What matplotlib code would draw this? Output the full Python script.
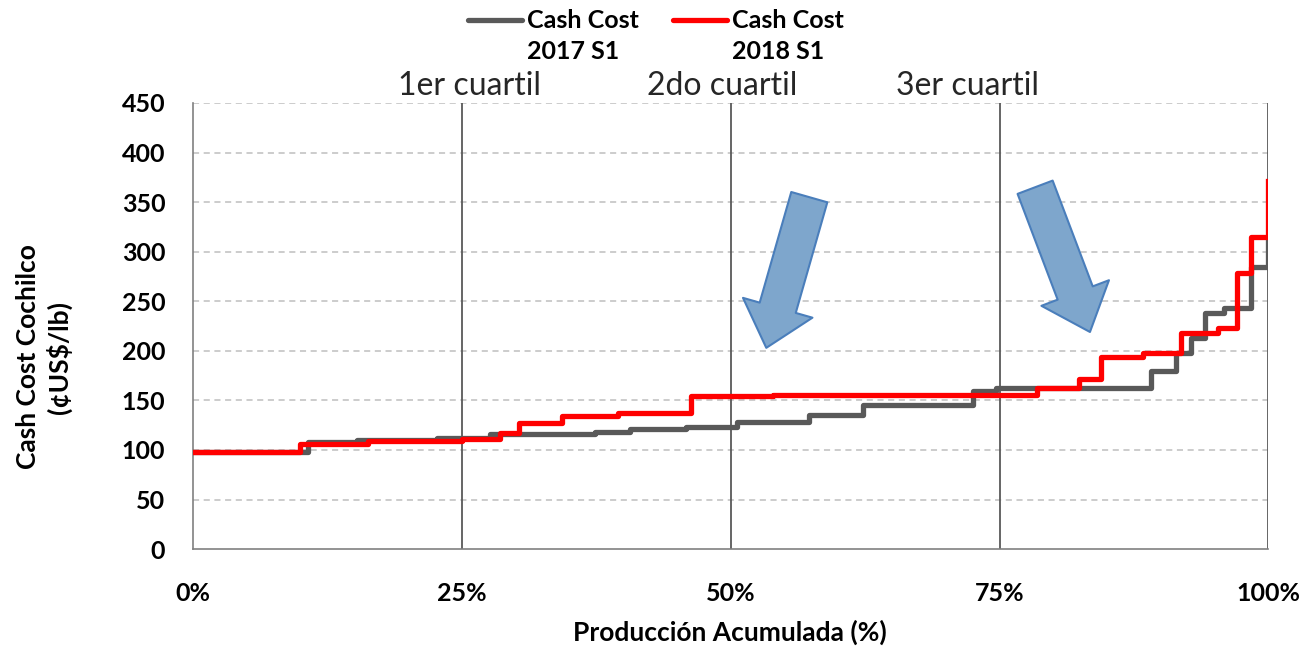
import matplotlib
matplotlib.use('Agg')
import matplotlib.pyplot as plt
from matplotlib.lines import Line2D

# step points: (x = produccion acumulada %, y = cash cost c/lb)
prod_2017 = [0, 10.7, 15.2, 22.7, 27.6, 37.4, 40.6, 45.8, 50.6, 57.3, 62.3,
             72.5, 74.7, 89.1, 91.4, 92.8, 94.1, 95.9, 98.4, 100]
cost_2017 = [98, 108, 110, 112, 116, 118, 121, 123, 128, 135, 145,
             159, 163, 180, 198, 213, 238, 243, 285, 314]

prod_2018 = [0, 9.9, 16.3, 25.0, 28.5, 30.3, 34.3, 39.5, 46.3, 53.9,
             78.5, 82.4, 84.4, 88.3, 91.9, 95.3, 97.1, 98.4, 100]
cost_2018 = [98, 106, 109, 111, 117, 127, 134, 137, 154, 155,
             163, 172, 194, 198, 218, 223, 279, 315, 371]

quartiles = [25, 50, 75, 100]
quartile_labels = ['1er cuartil', '2do cuartil', '3er cuartil']
x_ticks = [0, 25, 50, 75, 100]
x_ticklabels = ['0%', '25%', '50%', '75%', '100%']
y_ticks = list(range(0, 451, 50))

plt.rcParams['font.family'] = ['Lato', 'DejaVu Sans']

fig = plt.figure(figsize=(13.05, 6.46), dpi=100)
ax = fig.add_axes([0.148, 0.150, 0.824, 0.6906])

# grid + quartile lines
for y in y_ticks[1:]:
    ax.axhline(y, color='#BFBFBF', lw=1.1, ls=(0, (4, 3)), zorder=1)
for q in quartiles:
    ax.axvline(q, color='#595959', lw=1.3, zorder=1)

ax.step(prod_2017, cost_2017, where='post', color='#595959', lw=3.8, zorder=3)
ax.step(prod_2018, cost_2018, where='post', color='#FF0000', lw=3.8, zorder=4)

# arrows
arrow_style = 'simple,head_length=1.5,head_width=2.6,tail_width=1.35'
for tail, tip in [((57.3, 355), (53.3, 203)), ((78.3, 365), (83.4, 219))]:
    ax.annotate('', xy=tip, xytext=tail,
                arrowprops=dict(arrowstyle=arrow_style, mutation_scale=20,
                                fc='#7EA6CC', ec='#4A7EBB', lw=1.5,
                                shrinkA=0, shrinkB=0), zorder=5)

# quartile labels
for xq, lab in zip([25.7, 49.2, 72.0], quartile_labels):
    ax.text(xq, 467, lab, ha='center', va='center', fontsize=23,
            fontweight='normal', color='#262626', clip_on=False)

ax.set_xlim(0, 100)
ax.set_ylim(0, 450)
ax.set_xticks(x_ticks)
ax.set_xticklabels(x_ticklabels)
ax.set_yticks(y_ticks)
for lab in ax.get_xticklabels() + ax.get_yticklabels():
    lab.set_fontweight('bold')
    lab.set_fontsize(18)
ax.tick_params(axis='x', length=0, pad=24)
ax.tick_params(axis='y', length=0, pad=20)

for s in ['top', 'right']:
    ax.spines[s].set_visible(False)
ax.spines['left'].set_color('#808080')
ax.spines['bottom'].set_color('#808080')
ax.spines['left'].set_linewidth(1.2)
ax.spines['bottom'].set_linewidth(1.2)

fig.text(730 / 1305, 1 - 632 / 646, 'Producción Acumulada (%)', ha='center', va='center',
         fontsize=19, fontweight='bold')
fig.text(44 / 1305, 1 - 357 / 646, 'Cash Cost Cochilco\n(¢US$/lb)', rotation=90,
         ha='center', va='center', fontsize=19, fontweight='bold',
         multialignment='center', linespacing=1.25)

# legend drawn by hand
W, H = 1305, 646
for x0, color, lab in [(468, '#595959', 'Cash Cost\n2017 S1'), (673, '#FF0000', 'Cash Cost\n2018 S1')]:
    fig.add_artist(Line2D([x0 / W, (x0 + 54) / W], [1 - 20 / H, 1 - 20 / H],
                          color=color, lw=3.8, solid_capstyle='round'))
    fig.text((x0 + 59) / W, 1 - 9 / H, lab, ha='left', va='top', fontsize=18,
             fontweight='bold', linespacing=1.4)

fig.savefig('out.png', dpi=100)
